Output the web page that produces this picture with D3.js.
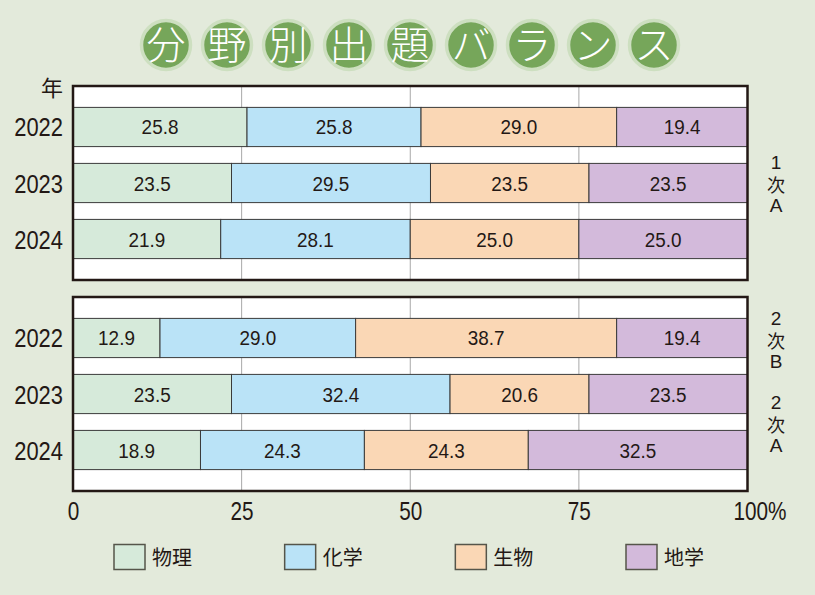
<!DOCTYPE html>
<html><head><meta charset="utf-8">
<script src="https://cdn.jsdelivr.net/npm/d3@7/dist/d3.min.js"></script>
<style>
html,body{margin:0;padding:0;background:#e3eadb;}
svg{display:block;}
</style></head>
<body>
<svg id="chart" width="815" height="595"></svg>
<script>
const titleChars = ["分","野","別","出","題","バ","ラ","ン","ス"];
const subjects = ["物理","化学","生物","地学"];
const subjectColors = ["#d6eada","#bae3f7","#fad7b5","#d3badb"];
const years = ["2022","2023","2024"];
const panel1Label = ["1","次","A"];
const panel1Values = [
  [25.8, 25.8, 29.0, 19.4],
  [23.5, 29.5, 23.5, 23.5],
  [21.9, 28.1, 25.0, 25.0]
];
const panel2Values = [
  [12.9, 29.0, 38.7, 19.4],
  [23.5, 32.4, 20.6, 23.5],
  [18.9, 24.3, 24.3, 32.5]
];
const panel2Labels = [["2","次","B"],["2","次","A"]];
const tickValues = [0, 25, 50, 75, 100];

const svg = d3.select("#chart");
svg.append("rect").attr("width",815).attr("height",595).attr("fill","#e3eadb");

const SANS = "'Liberation Sans', Arial, sans-serif";
const CJK = "'Noto Sans CJK JP', sans-serif";

// Title
const tx = d3.scalePoint().domain(titleChars.map((c,i)=>i)).range([166, 654]);
const tg = svg.append("g");
titleChars.forEach((c,i)=>{
  tg.append("circle").attr("cx",tx(i)).attr("cy",45).attr("r",24.5)
    .attr("fill","#76a65a").attr("stroke","#cddfc0").attr("stroke-width",3.5);
  tg.append("text").attr("x",tx(i)).attr("y",45).attr("dy","0.37em")
    .attr("text-anchor","middle").attr("fill","#fff")
    .attr("font-family",CJK).attr("font-weight",300).attr("font-size",39)
    .text(c);
});

const x = d3.scaleLinear().domain([0,100]).range([73, 747.5]);

function condText(g, px, py, str, size, sx, anchor, family){
  return g.append("text")
    .attr("transform",`translate(${px},${py}) scale(${sx},1)`)
    .attr("text-anchor",anchor||"middle")
    .attr("font-family",family||SANS)
    .attr("font-size",size).attr("fill","#231815").text(str);
}

function drawPanel(top, bottom, values){
  const g = svg.append("g");
  const y = d3.scaleBand().domain(years).range([top,bottom]).paddingInner(0.3).paddingOuter(0.382);
  g.append("rect").attr("x",x(0)).attr("y",top).attr("width",x(100)-x(0)).attr("height",bottom-top)
    .attr("fill","#fff");
  g.selectAll("line.grid").data([25,50,75]).join("line")
    .attr("x1",d=>x(d)).attr("x2",d=>x(d)).attr("y1",top).attr("y2",bottom)
    .attr("stroke","#a8a8a8").attr("stroke-width",1);
  years.forEach((yr, yi)=>{
    const stack = d3.cumsum(values[yi]);
    values[yi].forEach((v, si)=>{
      const x0 = si===0 ? 0 : stack[si-1];
      const x1 = stack[si];
      g.append("rect").attr("x",x(x0)).attr("y",y(yr)).attr("width",x(x1)-x(x0)).attr("height",y.bandwidth())
        .attr("fill",subjectColors[si]).attr("stroke","#3a3a3a").attr("stroke-width",1);
      condText(g, (x(x0)+x(x1))/2, y(yr)+y.bandwidth()/2+7.5, v.toFixed(1), 21, 0.9);
    });
    condText(g, 63, y(yr)+y.bandwidth()/2+9.5, yr, 25.5, 0.86, "end");
  });
  g.append("rect").attr("x",x(0)).attr("y",top).attr("width",x(100)-x(0)).attr("height",bottom-top)
    .attr("fill","none").attr("stroke","#231815").attr("stroke-width",2.5);
  return y;
}

drawPanel(86, 280, panel1Values);
drawPanel(297, 491, panel2Values);

// 年
svg.append("text").attr("x",63).attr("y",96).attr("text-anchor","end")
  .attr("font-family",CJK).attr("font-size",22).attr("fill","#231815").text("年");

// right labels
function vlabel(lines, baselines){
  lines.forEach((t,i)=>{
    svg.append("text").attr("x",776).attr("y",baselines[i]).attr("text-anchor","middle")
      .attr("font-family", t==="次" ? CJK : SANS).attr("font-size",t==="次" ? 18 : 19).attr("fill","#231815").text(t);
  });
}
vlabel(panel1Label, [169, 192, 212]);
vlabel(panel2Labels[0], [325, 348, 368]);
vlabel(panel2Labels[1], [409, 432, 452]);

// axis
const axis = d3.axisBottom(x).tickValues(tickValues).tickSize(0).tickFormat(d=> d===100 ? "100%" : d);
const ag = svg.append("g").attr("transform","translate(0,491)").call(axis);
ag.select(".domain").remove();
ag.selectAll("text")
  .attr("y",29).attr("dy",0)
  .attr("font-family",SANS).attr("font-size",25).attr("fill","#231815")
  .attr("transform",d=> d===100 ? "translate(12,0) scale(0.83,1)" : "scale(0.83,1)");

// legend
const lx = d3.scalePoint().domain(subjects).range([114, 626]);
subjects.forEach((s,i)=>{
  svg.append("rect").attr("x",lx(s)).attr("y",544.5).attr("width",31).attr("height",25)
    .attr("fill",subjectColors[i]).attr("stroke","#55554a").attr("stroke-width",1.5);
  svg.append("text").attr("x",lx(s)+38).attr("y",565).attr("font-family",CJK)
    .attr("font-size",20).attr("fill","#231815").text(s);
});
</script>
</body></html>
